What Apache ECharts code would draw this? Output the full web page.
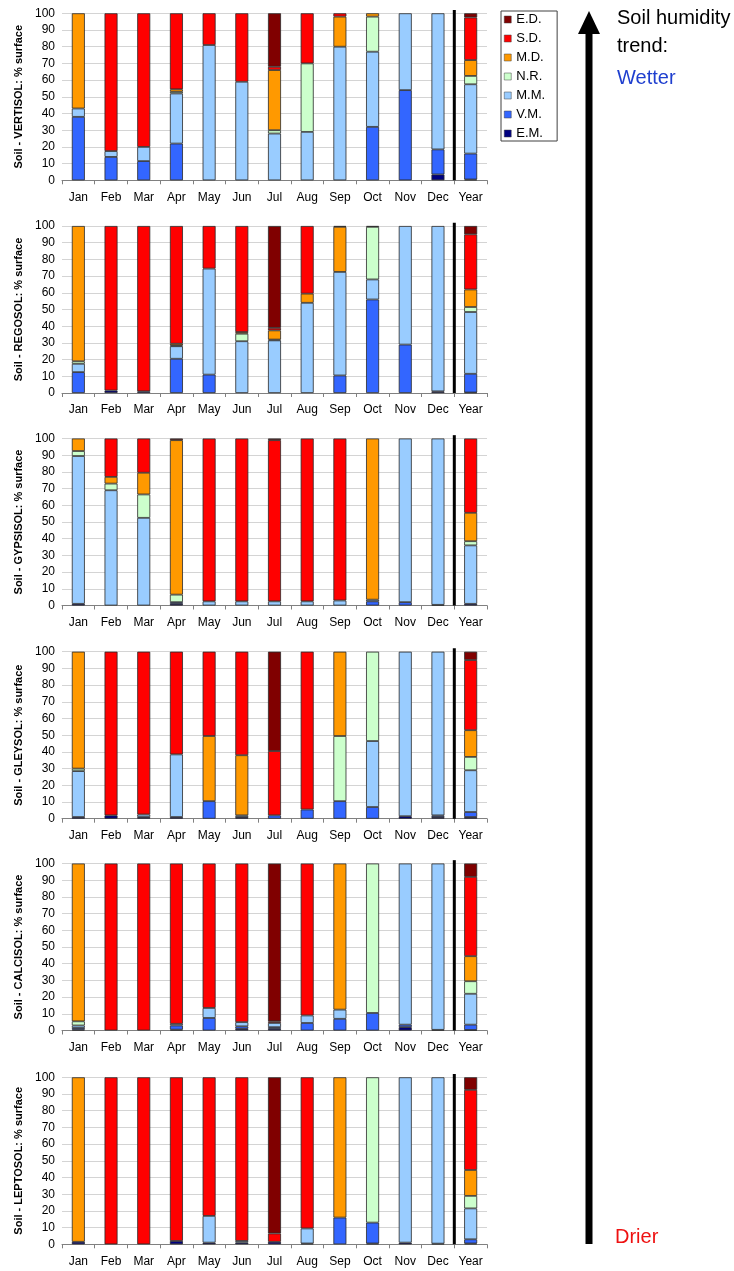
<!DOCTYPE html>
<html><head><meta charset="utf-8">
<script src="https://cdn.jsdelivr.net/npm/echarts@6/dist/echarts.min.js"></script>
<style>html,body{margin:0;padding:0;background:#fff}#c{width:734px;height:1271px}</style>
</head><body><div id="c"></div>
<script>
const categories = ['Jan','Feb','Mar','Apr','May','Jun','Jul','Aug','Sep','Oct','Nov','Dec','Year'];
const seriesNames = ['E.M.','V.M.','M.M.','N.R.','M.D.','S.D.','E.D.'];
const legendOrder = ['E.D.','S.D.','M.D.','N.R.','M.M.','V.M.','E.M.'];
const soils = ['VERTISOL','REGOSOL','GYPSISOL','GLEYSOL','CALCISOL','LEPTOSOL'];
const yTicks = [0,10,20,30,40,50,60,70,80,90,100];

// values per soil, per class (E.M., V.M., M.M., N.R., M.D., S.D., E.D.), per month Jan..Dec, Year
const vertisol_EM = [0,0,0,0,0,0,0,0,0,0,0,3.5,0.5];
const vertisol_VM = [38,14,11.5,22,0,0,0,0,0,32,54,15,15.5];
const vertisol_MM = [5,3.5,8.5,30,81,59,28,29,80,45,46,81.5,41.5];
const vertisol_NR = [0,0,0,1,0,0,2,41,0,21,0,0,5];
const vertisol_MD = [57,0,0,1.5,0,0,36,0,18,2,0,0,9.5];
const vertisol_SD = [0,82.5,80,45.5,19,41,2,30,2,0,0,0,25.5];
const vertisol_ED = [0,0,0,0,0,0,32,0,0,0,0,0,2.5];

const regosol_EM = [0,1.5,1,0,0,0,0,0,0,0,0,1,0.3];
const regosol_VM = [12.5,0,0,20.5,11,0,0,0,10.5,56,29,0,11.2];
const regosol_MM = [5,0,0,7.5,63.5,31,31.5,54,62,12,71,99,37];
const regosol_NR = [1.5,0,0,0.5,0,4.5,0.5,0,0,31.5,0,0,3];
const regosol_MD = [81,0,0,1,0,1,5.5,5.5,27,0,0,0,10.5];
const regosol_SD = [0,98.5,99,70.5,25.5,63.5,1.5,40.5,0.5,0.5,0,0,33];
const regosol_ED = [0,0,0,0,0,0,61,0,0,0,0,0,5];

const gypsisol_EM = [1,0,0,1,0,0,0,0,0,0,0,0.4,1];
const gypsisol_VM = [0,0,0,1,0,0,0,0,0,2.5,2,0,0];
const gypsisol_MM = [88.5,69,52.5,0,2.5,2.5,2.5,2.5,3,1,98,99.6,35];
const gypsisol_NR = [3,4,14,4.5,0,0,0,0,0,0,0,0,2.5];
const gypsisol_MD = [7.5,4,13,92.5,0,0,0,0,0,96.5,0,0,17];
const gypsisol_SD = [0,23,20.5,0,97.5,97.5,96.5,97.5,97,0,0,0,44.5];
const gypsisol_ED = [0,0,0,1,0,0,1,0,0,0,0,0,0];

const gleysol_EM = [1,2,1,1,0,1,0,0,0,0,1.5,1,1];
const gleysol_VM = [0,0,0,0,10.5,0,2,5.5,10.5,7,0,1,3];
const gleysol_MM = [27.5,0,1.5,37.5,0,1,0,0,0,39.5,98.5,98,25];
const gleysol_NR = [1.5,0,0,0,0,0,0,0,39,53.5,0,0,8];
const gleysol_MD = [70,0,0,0,39,36,0,0,50.5,0,0,0,16];
const gleysol_SD = [0,98,97.5,61.5,50.5,62,38.5,94.5,0,0,0,0,42];
const gleysol_ED = [0,0,0,0,0,0,59.5,0,0,0,0,0,5];

const calcisol_EM = [0.5,0,0,0.5,0,1,1,0,0,0,2,0.4,0.3];
const calcisol_VM = [1,0,0,2.5,7.5,1.5,1,4.5,7,10.5,1.5,0,3.2];
const calcisol_MM = [1.5,0,0,1,6,2.5,2.5,4.5,5.5,0,96.5,99.6,18.5];
const calcisol_NR = [2.5,0,0,0,0,0,0,0,0,89.5,0,0,7.5];
const calcisol_MD = [94.5,0,0,0,0,0,0,0,87.5,0,0,0,15];
const calcisol_SD = [0,100,100,96,86.5,95,1,91,0,0,0,0,47.5];
const calcisol_ED = [0,0,0,0,0,0,94.5,0,0,0,0,0,8];

const leptosol_EM = [1.5,0,0,2,1,1,1.5,0.5,0,0.5,1,0.4,0.5];
const leptosol_VM = [0,0,0,0,0,0,0,0,16,12.5,0,0,2.5];
const leptosol_MM = [0,0,0,0,16,1,0,9,0,0,99,99.6,18.5];
const leptosol_NR = [0,0,0,0,0,0,0,0,0,87,0,0,7.5];
const leptosol_MD = [98.5,0,0,0,0,0,0,0,84,0,0,0,15.5];
const leptosol_SD = [0,100,100,98,83,98,5,90.5,0,0,0,0,48];
const leptosol_ED = [0,0,0,0,0,0,93.5,0,0,0,0,0,7.5];

const soilData = [
  [vertisol_EM,vertisol_VM,vertisol_MM,vertisol_NR,vertisol_MD,vertisol_SD,vertisol_ED],
  [regosol_EM,regosol_VM,regosol_MM,regosol_NR,regosol_MD,regosol_SD,regosol_ED],
  [gypsisol_EM,gypsisol_VM,gypsisol_MM,gypsisol_NR,gypsisol_MD,gypsisol_SD,gypsisol_ED],
  [gleysol_EM,gleysol_VM,gleysol_MM,gleysol_NR,gleysol_MD,gleysol_SD,gleysol_ED],
  [calcisol_EM,calcisol_VM,calcisol_MM,calcisol_NR,calcisol_MD,calcisol_SD,calcisol_ED],
  [leptosol_EM,leptosol_VM,leptosol_MM,leptosol_NR,leptosol_MD,leptosol_SD,leptosol_ED]
];
const colors = {'E.M.':'#000080','V.M.':'#3366FF','M.M.':'#99CCFF','N.R.':'#CCFFCC','M.D.':'#FF9900','S.D.':'#FF0000','E.D.':'#800000'};

const gridTops = [13.3, 226, 438.5, 651.7, 863.5, 1077.3];
const plotH = 167;
const font = 'Arial, "Liberation Sans", sans-serif';

const grid=[], xAxis=[], yAxis=[], series=[];
soils.forEach((s,i)=>{
  grid.push({left:62, width:425, top:gridTops[i], height:plotH});
  xAxis.push({type:'category', gridIndex:i, data:categories, boundaryGap:true,
    axisLine:{lineStyle:{color:'#808080',width:1}},
    axisTick:{show:true, length:4, lineStyle:{color:'#808080'}},
    axisLabel:{color:'#000', fontFamily:font, fontSize:12, margin:11, interval:0}});
  xAxis.push({type:'value', gridIndex:i, min:0, max:13, show:false});
  yAxis.push({type:'value', gridIndex:i, min:0, max:100, interval:10,
    name:'Soil - '+s+': % surface', nameLocation:'middle', nameGap:38, nameRotate:90,
    nameTextStyle:{fontFamily:font, fontSize:11, fontWeight:'bold', color:'#000'},
    axisLine:{show:false}, axisTick:{show:false},
    splitLine:{lineStyle:{color:'#d4d4d4',width:1}},
    axisLabel:{color:'#000', fontFamily:font, fontSize:12, margin:7}});
  seriesNames.forEach((n,k)=>{
    series.push({name:n, type:'bar', stack:'s'+i, xAxisIndex:2*i, yAxisIndex:i,
      barWidth:13,
      data: soilData[i][k].map(v=> v>0 ? v : '-'),
      itemStyle:{color:colors[n], borderColor:'#2a2a2a', borderWidth:0.8},
      emphasis:{disabled:true}, animation:false});
  });
  series.push({type:'line', xAxisIndex:2*i+1, yAxisIndex:i, data:[[12,0],[12,102]],
    symbol:'none', clip:false, lineStyle:{color:'#000', width:3}, silent:true, animation:false});
});

const chart = echarts.init(document.getElementById('c'), null, {renderer:'canvas'});
chart.setOption({
  animation:false,
  grid, xAxis, yAxis, series,
  legend:{data:legendOrder, orient:'vertical', left:501, top:11, itemWidth:7, itemHeight:7,
    itemGap:6, padding:[2,12,1,3], borderColor:'#404040', borderWidth:1,
    icon:'rect', itemStyle:{borderColor:'#404040', borderWidth:0.5},
    textStyle:{fontFamily:font, fontSize:13, color:'#000', lineHeight:13}, selectedMode:false},
  graphic:[
    {type:'line', shape:{x1:589, y1:30, x2:589, y2:1244}, style:{stroke:'#000', lineWidth:7}},
    {type:'polygon', shape:{points:[[589,11],[578,34],[600,34]]}, style:{fill:'#000'}},
    {type:'text', left:617, top:8, style:{text:'Soil humidity', font:'20px Arial, "Liberation Sans", sans-serif', fill:'#000'}},
    {type:'text', left:617, top:36, style:{text:'trend:', font:'20px Arial, "Liberation Sans", sans-serif', fill:'#000'}},
    {type:'text', left:617, top:68, style:{text:'Wetter', font:'20px Arial, "Liberation Sans", sans-serif', fill:'#1f3fcf'}},
    {type:'text', left:615, top:1227, style:{text:'Drier', font:'20px Arial, "Liberation Sans", sans-serif', fill:'#ee1111'}}
  ]
});
</script></body></html>
